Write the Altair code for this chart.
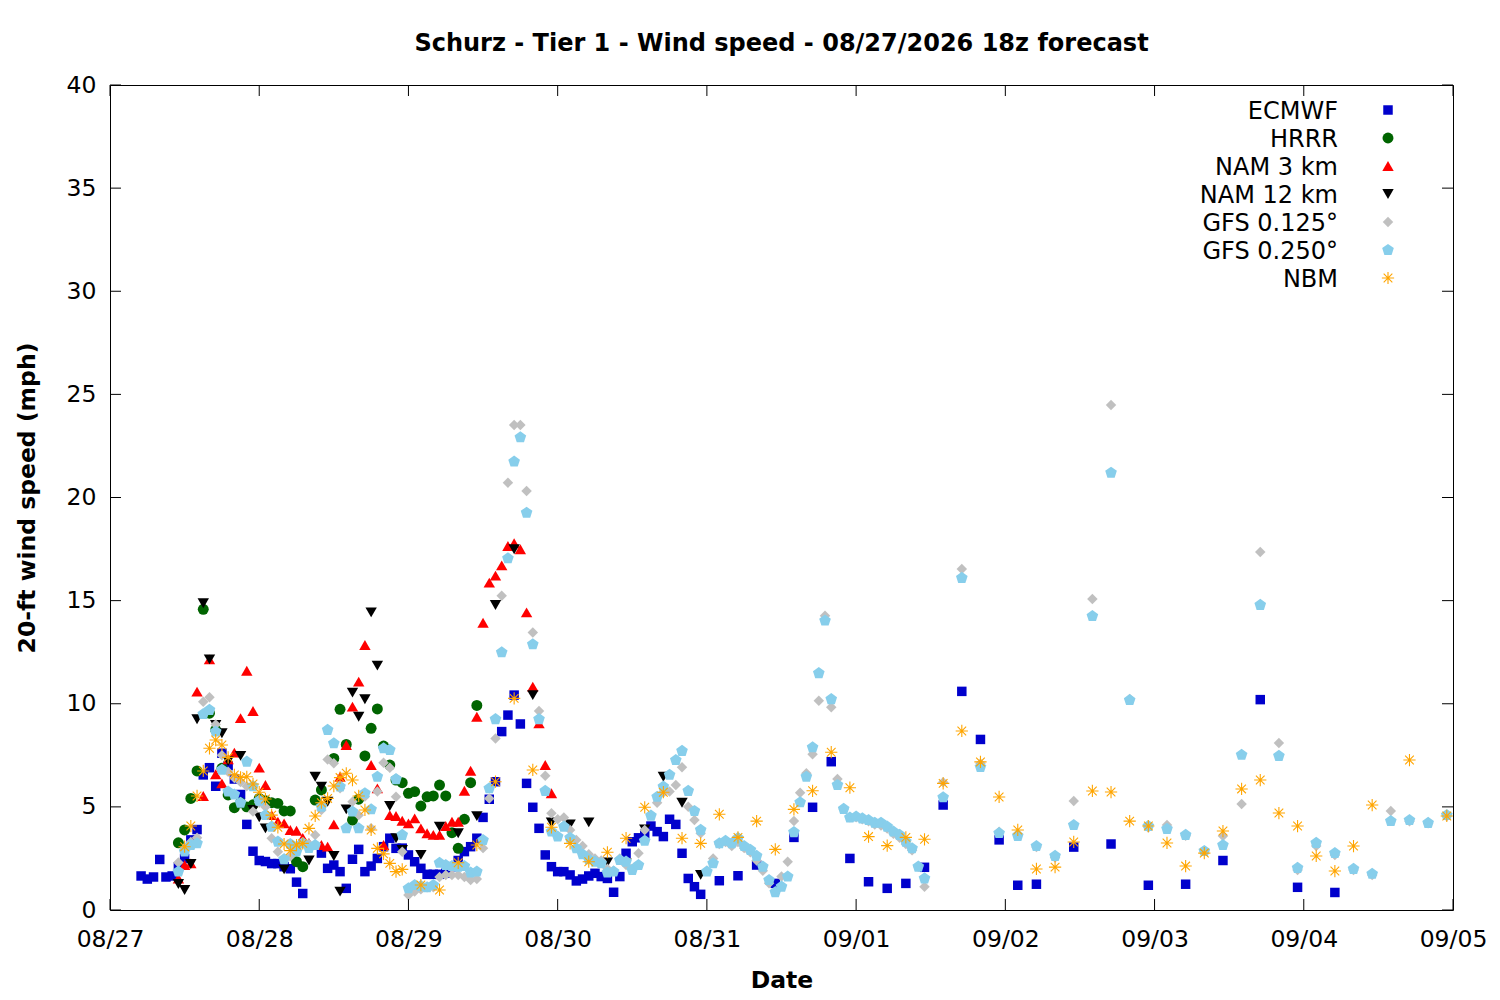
import json
import altair as alt
import pandas as pd

TITLE = "Schurz - Tier 1 - Wind speed - 08/27/2026 18z forecast"
SERIES = ["ECMWF", "HRRR", "NAM 3 km", "NAM 12 km", "GFS 0.125°", "GFS 0.250°", "NBM"]
COLORS = ["#0000cc", "#006400", "#ff0000", "#000000", "#c0c0c0", "#87ceeb", "#ffa500"]
DATE_LABELS = ["08/27", "08/28", "08/29", "08/30", "08/31", "09/01", "09/02", "09/03", "09/04", "09/05"]
X_TICKS = [0, 24, 48, 72, 96, 120, 144, 168, 192, 216]   # hours since 08/27 00:00
Y_TICKS = [0, 5, 10, 15, 20, 25, 30, 35, 40]

# ---- ECMWF (hours since 08/27 00:00, mph)
ECMWF_H = [5, 6, 7, 8, 9, 10, 11, 12, 13, 14, 15, 16, 17, 18, 19, 20, 21, 22, 23, 24,
           25, 26, 27, 28, 29, 30, 31, 34, 35, 36, 37, 38, 39, 40, 41, 42, 43, 44, 45, 46,
           47, 48, 49, 50, 51, 52, 53, 54, 55, 56, 57, 58, 59, 60, 61, 62, 63, 64, 65, 66,
           67, 68, 69, 70, 71, 72, 73, 74, 75, 76, 77, 78, 79, 80, 81, 82, 83, 84, 85, 86,
           87, 88, 89, 90, 91, 92, 93, 94, 95, 98, 101, 104, 107, 110, 113, 116, 119, 122, 125, 128,
           131, 134, 137, 140, 143, 146, 149, 155, 161, 167, 173, 179, 185, 191, 197]
ECMWF_V = [1.65, 1.5, 1.6, 2.45, 1.6, 1.65, 2.1, 2.5, 3.4, 3.9, 6.55, 6.9, 6.0, 7.6, 7.0, 6.35, 5.6, 4.15, 2.85, 2.4,
           2.35, 2.25, 2.25, 2.1, 2.0, 1.35, 0.8, 2.76, 2.02, 2.18, 1.86, 1.05, 2.46, 2.94, 1.86, 2.13, 2.5, 3.07, 3.48, 2.99,
           3.0, 2.67, 2.34, 2.02, 1.73, 1.73, 1.73, 1.78, 2.1, 2.4, 2.83, 3.07, 3.48, 4.49, 5.37, 6.22, 8.65, 9.45, 10.42, 9.02,
           6.14, 4.98, 3.96, 2.67, 2.1, 1.86, 1.86, 1.7, 1.41, 1.5, 1.65, 1.78, 1.62, 1.53, 0.86, 1.62, 2.75, 3.31, 3.5, 3.7,
           4.07, 3.8, 3.56, 4.4, 4.15, 2.75, 1.53, 1.13, 0.76, 1.42, 1.66, 2.18, 1.29, 3.52, 4.98, 7.19, 2.5, 1.37, 1.05, 1.29,
           2.07, 5.09, 10.6, 8.27, 3.4, 1.2, 1.25, 3.05, 3.2, 1.2, 1.25, 2.4, 10.2, 1.1, 0.85]

# ---- HRRR
HRRR_H = [11, 12, 13, 14, 15, 16, 17, 18, 19, 20, 21, 22, 23, 24, 25, 26, 27, 28, 29, 30,
          31, 33, 34, 36, 37, 38, 39, 40, 41, 42, 43, 44, 45, 46, 47, 48, 49, 50, 51, 52,
          53, 54, 55, 56, 57, 58, 59]
HRRR_V = [3.26, 3.88, 5.41, 6.74, 14.58, 9.54, 8.73, 6.87, 5.58, 4.96, 5.2, 5.0, 5.1, 5.41, 5.3, 5.2, 5.17, 4.8, 4.8, 2.34,
          2.1, 5.33, 5.82, 7.35, 9.73, 8.03, 4.36, 5.37, 7.47, 8.81, 9.75, 7.95, 7.03, 6.3, 6.17, 5.66, 5.74, 5.04, 5.49, 5.53,
          6.06, 5.53, 3.75, 2.99, 4.4, 6.17, 9.92]

# ---- NAM 3 km
NAM3_H = list(range(11, 72))
NAM3_V = [1.53, 2.18, 2.26, 10.59, 5.53, 12.15, 6.58, 6.14, 7.3, 7.63, 9.3, 11.6, 9.65, 6.9, 6.06, 4.6, 4.28, 4.2, 3.88, 3.84,
          3.5, 3.25, 3.15, 3.15, 3.07, 4.15, 6.46, 8.0, 9.86, 11.07, 12.85, 7.03, 5.9, 3.15, 4.6, 4.56, 4.33, 4.2, 4.44, 3.96,
          3.72, 3.64, 3.64, 4.07, 4.28, 4.28, 5.78, 6.75, 9.37, 13.93, 15.87, 16.21, 16.71, 17.65, 17.78, 17.49, 14.43, 10.83, 9.05, 7.03,
          5.66]

# ---- NAM 12 km
NAM12_H = [11, 12, 13, 14, 15, 16, 17, 18, 19, 21, 23, 24, 25, 28, 32, 33, 34, 35, 36, 37,
           38, 39, 40, 41, 42, 43, 45, 46, 47, 50, 53, 56, 59, 62, 65, 68, 71, 74, 77, 80,
           83, 86, 89, 92, 95]
NAM12_V = [1.26, 0.97, 2.23, 9.25, 14.87, 12.15, 8.97, 8.57, 7.22, 7.47, 4.85, 4.49, 3.96, 1.97, 2.4, 6.46, 5.98, 5.25, 2.62, 0.89,
           4.88, 10.54, 9.37, 10.22, 14.43, 11.85, 5.04, 3.48, 2.91, 2.67, 4.04, 3.72, 4.55, 14.79, 17.49, 10.42, 4.25, 4.15, 4.25, 2.31,
           2.26, 3.91, 6.46, 5.2, 1.7]

# ---- GFS (hourly 11..131, then 3-hourly 134..215)
GFS_H = list(range(11, 132)) + list(range(134, 216, 3))
GFS125_V = [2.3, 3.0, 3.3, 3.5, 10.1, 10.31, 9.0, 7.5, 6.7, 6.4, 6.2, 6.0, 4.77, 5.2, 5.0, 3.48, 2.83, 2.5, 2.6, 3.0,
            3.3, 3.2, 3.64, 4.85, 7.3, 7.11, 5.9, 4.0, 5.25, 4.6, 5.5, 3.96, 5.74, 7.14, 6.9, 5.49, 2.83, 0.73, 0.9, 1.0,
            1.1, 1.1, 1.6, 1.7, 1.7, 1.7, 1.6, 1.45, 1.5, 3.0, 5.41, 8.32, 15.24, 20.72, 23.52, 23.52, 20.32, 13.46, 9.65, 6.51,
            4.69, 4.4, 4.49, 3.88, 3.4, 3.1, 2.7, 2.5, 2.4, 2.0, 1.9, 2.5, 2.18, 2.0, 2.75, 3.88, 4.6, 5.2, 5.7, 5.74,
            6.06, 6.92, 5.01, 4.36, 3.72, 1.9, 2.5, 3.2, 3.3, 3.1, 3.3, 3.0, 2.8, 2.4, 1.9, 1.3, 0.9, 1.62, 2.34, 4.31,
            5.69, 6.63, 7.55, 10.15, 14.27, 9.83, 6.35, 4.9, 4.5, 4.5, 4.4, 4.3, 4.15, 4.1, 3.95, 3.7, 3.5, 3.2, 2.9, 2.1,
            1.13,
            6.2, 16.53, 7.1, 3.8, 3.7, 3.05, 2.55, 5.28, 15.08, 24.48, 10.23, 4.0, 4.12, 3.6, 2.86, 3.59, 5.14, 17.36, 8.1, 1.94,
            3.1, 2.67, 1.94, 1.7, 4.8, 4.3, 4.2, 4.55]
GFS250_V = [1.86, 2.83, 3.15, 3.23, 9.5, 9.7, 8.65, 6.8, 5.74, 5.6, 5.2, 7.19, 6.0, 5.3, 4.6, 4.04, 3.31, 2.46, 3.2, 2.83,
            3.23, 3.0, 3.15, 5.0, 8.73, 8.08, 5.98, 3.96, 4.77, 3.96, 5.66, 4.88, 6.46, 7.84, 7.76, 6.34, 3.64, 1.05, 1.21, 1.16,
            1.1, 1.21, 2.29, 2.18, 2.13, 2.1, 2.13, 1.81, 1.86, 3.39, 5.9, 9.25, 12.49, 17.05, 21.74, 22.92, 19.26, 12.88, 9.25, 5.77,
            3.8, 3.56, 4.04, 3.5, 2.99, 2.7, 2.46, 2.34, 2.26, 1.81, 1.86, 2.42, 2.34, 1.94, 2.18, 3.35, 4.57, 5.49, 5.98, 6.55,
            7.27, 7.71, 5.77, 4.8, 3.88, 1.86, 2.26, 3.23, 3.35, 3.23, 3.48, 3.1, 2.91, 2.62, 2.1, 1.45, 0.86, 1.13, 1.62, 3.77,
            5.22, 6.46, 7.89, 11.48, 14.03, 10.22, 6.06, 4.9, 4.48, 4.53, 4.44, 4.36, 4.23, 4.23, 4.04, 3.8, 3.64, 3.31, 2.99, 2.1,
            1.53,
            5.46, 16.1, 6.93, 3.73, 3.59, 3.1, 2.62, 4.12, 14.25, 21.2, 10.18, 4.07, 3.93, 3.64, 2.86, 3.15, 7.52, 14.79, 7.47, 2.04,
            3.25, 2.76, 1.99, 1.75, 4.31, 4.36, 4.22, 4.6]

# ---- NBM
NBM_H = list(range(12, 48)) + list(range(50, 204, 3)) + [209, 215]
NBM_V = [3.07, 4.07, 5.53, 6.74, 7.84, 8.24, 8.0, 7.4, 6.55, 6.43, 6.46, 6.11, 5.71, 5.38, 4.6, 4.01, 3.2, 2.88, 3.15, 3.23,
         3.96, 4.56, 5.2, 5.41, 6.01, 6.42, 6.63, 6.3, 5.53, 4.85, 3.88, 2.99, 2.72, 2.26, 1.86, 1.97,
         1.21, 0.97, 2.29, 3.15, 6.22, 10.26, 6.79, 4.01, 3.23, 2.34, 2.8, 3.48, 4.98, 5.71, 3.48, 3.23, 4.64, 3.52, 4.31, 2.94,
         4.88, 5.78, 7.65, 5.93, 3.56, 3.12, 3.52, 3.43, 6.14, 8.68, 7.18, 5.48, 3.88, 1.99, 2.08, 3.3, 5.77, 5.72, 4.31, 4.07,
         3.25, 2.13, 2.76, 3.83, 5.87, 6.3, 4.7, 4.07, 2.62, 1.89, 3.1, 5.09,
         7.27, 4.56]

DATA = [(ECMWF_H, ECMWF_V), (HRRR_H, HRRR_V), (NAM3_H, NAM3_V), (NAM12_H, NAM12_V),
        (GFS_H, GFS125_V), (GFS_H, GFS250_V), (NBM_H, NBM_V)]
for hh, vv in DATA:
    assert len(hh) == len(vv), (len(hh), len(vv))

PENTAGON = "M0,-1L0.951,-0.309L0.588,0.809L-0.588,0.809L-0.951,-0.309Z"
ASTERISK = "M-1,0L1,0M0,-1L0,1M-0.707,-0.707L0.707,0.707M-0.707,0.707L0.707,-0.707"
SHAPES = ["square", "circle", "triangle-up", "triangle-down", "diamond", PENTAGON, ASTERISK]
SIZES = [90, 120, 130, 130, 110, 150, 150]

FONT = "DejaVu Sans"
W, H = 1343, 825
TICK = 11
AX_FS = 23.5

xscale = alt.Scale(domain=[0, 216], nice=False, zero=False)
yscale = alt.Scale(domain=[0, 40], nice=False)
label_expr = json.dumps(DATE_LABELS) + "[round(datum.value / 24)]"
X = alt.X("h:Q", scale=xscale,
          axis=alt.Axis(values=X_TICKS, labelExpr=label_expr, title="Date", labelFlush=False,
                        labelPadding=17, titlePadding=18, labelOverlap=False))
Y = alt.Y("v:Q", scale=yscale,
          axis=alt.Axis(values=Y_TICKS, title="20-ft wind speed (mph)", labelPadding=14, titlePadding=27))

layers = []
for i, (name, (hh, vv)) in enumerate(zip(SERIES, DATA)):
    df = pd.DataFrame({"h": hh, "v": vv})
    if name == "NBM":
        mk = alt.Chart(df).mark_point(shape=SHAPES[i], size=SIZES[i], filled=False,
                                      stroke=COLORS[i], strokeWidth=1.1, opacity=1)
    else:
        mk = alt.Chart(df).mark_point(shape=SHAPES[i], size=SIZES[i], filled=True,
                                      color=COLORS[i], opacity=1)
    layers.append(mk.encode(x=X, y=Y))

# inward ticks on all four sides
ydf = pd.DataFrame({"v": Y_TICKS})
xdf = pd.DataFrame({"h": X_TICKS})
rule = dict(color="black", strokeWidth=1)
layers.append(alt.Chart(ydf).mark_rule(**rule).encode(y=Y, x=alt.value(0), x2=alt.value(TICK)))
layers.append(alt.Chart(ydf).mark_rule(**rule).encode(y=Y, x=alt.value(W), x2=alt.value(W - TICK)))
layers.append(alt.Chart(xdf).mark_rule(**rule).encode(x=X, y=alt.value(H), y2=alt.value(H - TICK)))
layers.append(alt.Chart(xdf).mark_rule(**rule).encode(x=X, y=alt.value(0), y2=alt.value(TICK)))

# gnuplot-style key (label then symbol), top right inside the plot
one = pd.DataFrame({"a": [0]})
for i, name in enumerate(SERIES):
    ly = 25 + 28 * i
    layers.append(alt.Chart(one).mark_text(align="right", baseline="middle", font=FONT,
                                           fontSize=24, color="black", dy=2)
                  .encode(x=alt.value(1228), y=alt.value(ly), text=alt.value(name)))
    if name == "NBM":
        sym = alt.Chart(one).mark_point(shape=SHAPES[i], size=SIZES[i], filled=False,
                                        stroke=COLORS[i], strokeWidth=1.1, opacity=1)
    else:
        sym = alt.Chart(one).mark_point(shape=SHAPES[i], size=SIZES[i], filled=True,
                                        color=COLORS[i], opacity=1)
    layers.append(sym.encode(x=alt.value(1278), y=alt.value(ly)))

chart = alt.layer(*layers).properties(
    width=W, height=H,
    title=alt.TitleParams(TITLE, font=FONT, fontSize=24, fontWeight="bold", anchor="middle",
                          offset=17, color="black"),
    autosize=alt.AutoSizeParams(type="none"),
    padding={"left": 102, "top": 77, "right": 39, "bottom": 90},
    background="white",
).configure_view(stroke="black", strokeWidth=1).configure_axis(
    labelFont=FONT, labelFontSize=AX_FS, labelColor="black",
    titleFont=FONT, titleFontSize=AX_FS, titleFontWeight="bold", titleColor="black",
    ticks=False, domain=False, grid=False,
)

chart.save("out.html", embed_options={"renderer": "svg", "actions": False})
